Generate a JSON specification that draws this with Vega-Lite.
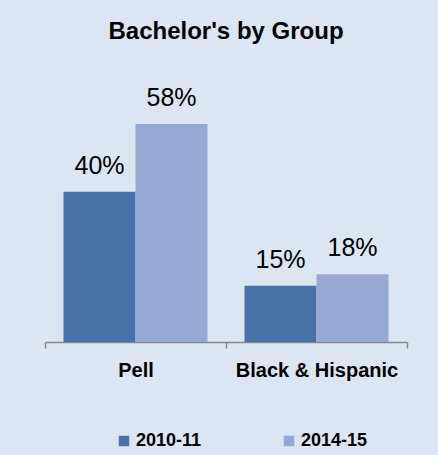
{
  "$schema": "https://vega.github.io/schema/vega-lite/v6.json",
  "width": 362,
  "height": 263,
  "autosize": "none",
  "padding": {"left": 45, "top": 79, "right": 31, "bottom": 113},
  "background": "#DCE6F2",
  "title": {
    "text": "Bachelor's by Group",
    "font": "Liberation Sans",
    "fontSize": 24,
    "fontWeight": "bold",
    "color": "#000000",
    "anchor": "middle",
    "offset": 35
  },
  "data": {
    "values": [
      {"group": "Pell", "year": "2010-11", "value": 0.40},
      {"group": "Pell", "year": "2014-15", "value": 0.58},
      {"group": "Black & Hispanic", "year": "2010-11", "value": 0.15},
      {"group": "Black & Hispanic", "year": "2014-15", "value": 0.18}
    ]
  },
  "encoding": {
    "x": {
      "field": "group",
      "type": "nominal",
      "sort": ["Pell", "Black & Hispanic"],
      "scale": {"paddingInner": 0, "paddingOuter": 0},
      "axis": {
        "title": null,
        "labelAngle": 0,
        "labelFont": "Liberation Sans",
        "labelFontSize": 20,
        "labelFontWeight": "bold",
        "labelColor": "#000000",
        "labelPadding": 12,
        "labelLimit": 300,
        "domainColor": "#898989",
        "domainWidth": 1.5,
        "tickColor": "#898989",
        "tickWidth": 1.5,
        "tickSize": 6,
        "tickBand": "extent",
        "grid": false
      }
    },
    "xOffset": {"field": "year", "type": "nominal", "scale": {"paddingInner": 0, "paddingOuter": 0.257}},
    "y": {
      "field": "value",
      "type": "quantitative",
      "scale": {"domain": [0, 0.7]},
      "axis": null
    }
  },
  "layer": [
    {
      "mark": {"type": "bar"},
      "encoding": {
        "color": {
          "field": "year",
          "type": "nominal",
          "scale": {"domain": ["2010-11", "2014-15"], "range": ["#4672A8", "#95A9D3"]},
          "legend": {
            "title": null,
            "orient": "none",
            "legendX": 70,
            "legendY": 353,
            "padding": 0,
            "direction": "horizontal",
            "symbolType": "square",
            "symbolSize": 110,
            "symbolStrokeWidth": 0,
            "symbolOffset": 0,
            "labelOffset": 3,
            "labelFont": "Liberation Sans",
            "labelFontSize": 18,
            "labelFontWeight": "bold",
            "labelColor": "#000000",
            "columnPadding": 78
          }
        }
      }
    },
    {
      "mark": {
        "type": "text",
        "baseline": "alphabetic",
        "dy": -18,
        "font": "Liberation Sans",
        "fontSize": 25,
        "color": "#000000"
      },
      "encoding": {
        "text": {"field": "value", "type": "quantitative", "format": ".0%"},
        "detail": {"field": "year"}
      }
    }
  ],
  "config": {"view": {"stroke": null}}
}
